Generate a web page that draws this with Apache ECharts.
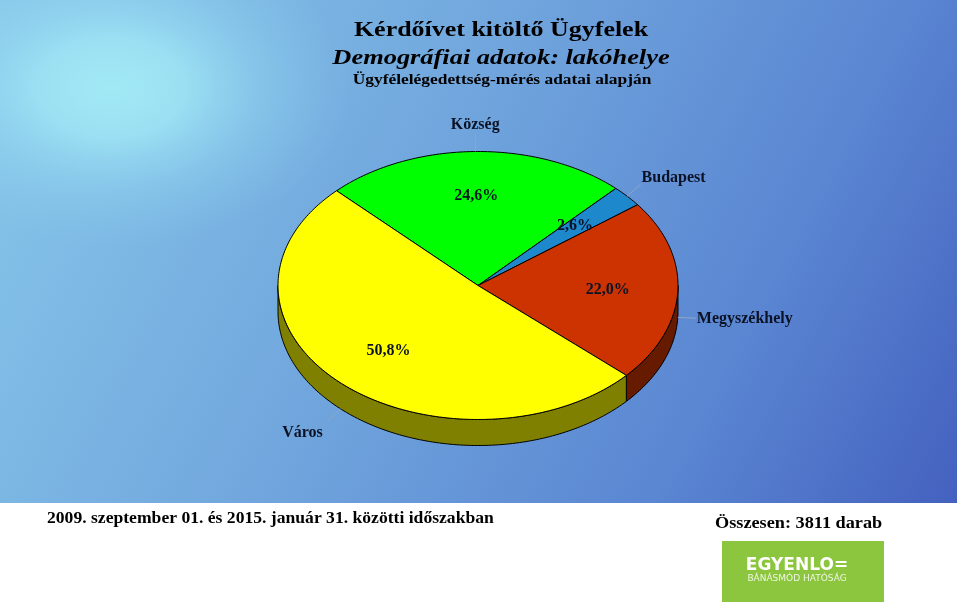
<!DOCTYPE html>
<html>
<head>
<meta charset="utf-8">
<script src="https://cdn.jsdelivr.net/npm/echarts@6/dist/echarts.min.js"></script>
<style>
  html, body { margin: 0; padding: 0; background: #ffffff; }
  #chart { width: 960px; height: 604px; }
</style>
</head>
<body>
<div id="chart"></div>
<script>
// Residence breakdown of survey respondents (percent of all answers)
const categories = ['Község', 'Budapest', 'Megyszékhely', 'Város'];
const shares = [24.6, 2.6, 22.0, 50.8];

const titleLines = [
  'Kérdőívet kitöltő Ügyfelek',
  'Demográfiai adatok: lakóhelye',
  'Ügyfélelégedettség-mérés adatai alapján'
];
const periodText = '2009. szeptember 01. és 2015. január 31. közötti időszakban';
const totalText = 'Összesen: 3811 darab';
const logoTitle = 'EGYENLO=';
const logoSub = 'BÁNÁSMÓD HATÓSÁG';

// Styling of the slices: top face and darker rim
const topColors = ['#00FF00', '#1E88CC', '#CC3300', '#FFFF00'];
const sideColors = ['#008000', '#0F4466', '#661A00', '#808000'];

// Geometry of the tilted pie (screen pixels)
const PIE = { cx: 478, cy: 285.5, rx: 200, ry: 134, depth: 26, startAngle: 135 };
const SERIF = '"Liberation Serif", "Times New Roman", serif';
const INK = '#0b1226';

function ellipsePoint(deg, dy) {
  const r = deg * Math.PI / 180;
  return [PIE.cx + PIE.rx * Math.cos(r), PIE.cy - PIE.ry * Math.sin(r) + (dy || 0)];
}
function arcPoints(a0, a1, dy) {
  const n = Math.max(2, Math.ceil(Math.abs(a1 - a0)));
  const pts = [];
  for (let i = 0; i <= n; i++) pts.push(ellipsePoint(a0 + (a1 - a0) * i / n, dy));
  return pts;
}
function fmtPct(v) { return v.toFixed(1).replace('.', ',') + '%'; }

const total = shares.reduce((s, v) => s + v, 0);

function renderSlice(params, api) {
  const i = params.dataIndex;
  const value = api.value(0);
  let before = 0;
  for (let k = 0; k < i; k++) before += shares[k];
  const a0 = PIE.startAngle - before / total * 360;   // clockwise from start
  const a1 = a0 - value / total * 360;
  const children = [];

  // visible rim: the front half of the ellipse (angles between -180 and 0)
  [-360, 0, 360].forEach(function (k) {
    const lo = Math.max(a1, -180 + k), hi = Math.min(a0, k);
    if (hi > lo) {
      const pts = arcPoints(hi, lo, 0).concat(arcPoints(lo, hi, PIE.depth));
      children.push({
        type: 'polygon', z2: 1,
        shape: { points: pts },
        style: { fill: sideColors[i], stroke: '#000', lineWidth: 1, lineJoin: 'round' }
      });
    }
  });

  // top face
  const face = [[PIE.cx, PIE.cy]].concat(arcPoints(a0, a1, 0));
  children.push({
    type: 'polygon', z2: 2,
    shape: { points: face },
    style: { fill: topColors[i], stroke: '#000', lineWidth: 1, lineJoin: 'round' }
  });

  // value label inside the slice
  const mid = (a0 + a1) / 2;
  const mr = mid * Math.PI / 180;
  const inner = [PIE.cx + PIE.rx * 0.65 * Math.cos(mr), PIE.cy - PIE.ry * 0.67 * Math.sin(mr)];
  children.push({
    type: 'text', z2: 20, x: inner[0], y: inner[1],
    style: { text: fmtPct(value), fill: INK, font: 'bold 16px ' + SERIF, align: 'center', verticalAlign: 'middle' }
  });

  // category label with leader line
  const c = Math.cos(mr), s = Math.sin(mr);
  const start = ellipsePoint(mid, s < 0 ? PIE.depth : 0);
  const L = 18;
  const end = [start[0] + L * c, start[1] - L * s];
  children.push({
    type: 'polyline', z2: 10,
    shape: { points: [start, end] },
    style: { stroke: '#8fa6c4', lineWidth: 1, fill: null }
  });
  const align = c > 0.3 ? 'left' : (c < -0.3 ? 'right' : 'center');
  children.push({
    type: 'text', z2: 20,
    x: end[0] + (align === 'left' ? 1 : (align === 'right' ? -5 : 0)),
    y: end[1] - s * (s > 0 ? 9 : 16),
    style: { text: categories[i], fill: INK, font: 'bold 16px ' + SERIF, align: align, verticalAlign: 'middle' }
  });

  return { type: 'group', children: children };
}

const chart = echarts.init(document.getElementById('chart'), null, { renderer: 'canvas' });

chart.setOption({
  animation: false,
  backgroundColor: '#ffffff',
  graphic: [
    // sky-blue backdrop
    {
      type: 'rect', z: -10, silent: true,
      shape: { x: 0, y: 0, width: 957, height: 503 },
      style: {
        fill: {
          type: 'linear', x: 0, y: 0, x2: 1, y2: 1,
          colorStops: [
            { offset: 0, color: '#88c8ea' },
            { offset: 0.4, color: '#72a8de' },
            { offset: 0.75, color: '#5a86d2' },
            { offset: 1, color: '#4461bf' }
          ]
        }
      }
    },
    // soft light spot in the upper left
    {
      type: 'circle', z: -9, silent: true,
      x: 112, y: 88, scaleX: 1.5, scaleY: 1,
      shape: { cx: 0, cy: 0, r: 160 },
      style: {
        fill: {
          type: 'radial', x: 0.5, y: 0.5, r: 0.5,
          colorStops: [
            { offset: 0, color: 'rgba(162,233,245,1)' },
            { offset: 0.3, color: 'rgba(158,228,244,0.9)' },
            { offset: 0.6, color: 'rgba(146,214,240,0.5)' },
            { offset: 1, color: 'rgba(136,200,234,0)' }
          ]
        }
      }
    },
    // titles
    {
      type: 'text', x: 501, y: 30, scaleX: 1.18, silent: true,
      style: { text: titleLines[0], fill: '#000', font: 'bold 22px ' + SERIF, align: 'center', verticalAlign: 'middle' }
    },
    {
      type: 'text', x: 501, y: 58, scaleX: 1.2, silent: true,
      style: { text: titleLines[1], fill: '#000', font: 'italic bold 22px ' + SERIF, align: 'center', verticalAlign: 'middle' }
    },
    {
      type: 'text', x: 502, y: 80, scaleX: 1.16, silent: true,
      style: { text: titleLines[2], fill: '#000', font: 'bold 15px ' + SERIF, align: 'center', verticalAlign: 'middle' }
    },
    // footer
    {
      type: 'text', x: 47, y: 519, scaleX: 1.1, silent: true,
      style: { text: periodText, fill: '#000', font: 'bold 16px ' + SERIF, align: 'left', verticalAlign: 'middle' }
    },
    {
      type: 'text', x: 715, y: 524, scaleX: 1.14, silent: true,
      style: { text: totalText, fill: '#000', font: 'bold 16px ' + SERIF, align: 'left', verticalAlign: 'middle' }
    },
    // logo
    {
      type: 'rect', silent: true,
      shape: { x: 722, y: 541, width: 162, height: 61 },
      style: { fill: '#8cc63f' }
    },
    {
      type: 'text', x: 797, y: 566, silent: true,
      style: { text: logoTitle, fill: '#ffffff', font: 'bold 17px "DejaVu Sans", sans-serif', align: 'center', verticalAlign: 'middle' }
    },
    {
      type: 'text', x: 797, y: 579, silent: true,
      style: { text: logoSub, fill: 'rgba(255,255,255,0.85)', font: '9px "DejaVu Sans", sans-serif', align: 'center', verticalAlign: 'middle' }
    }
  ],
  series: [{
    type: 'custom',
    coordinateSystem: 'none',
    silent: true,
    data: shares.map(function (v, i) { return { name: categories[i], value: v }; }),
    renderItem: renderSlice
  }]
});
</script>
</body>
</html>
